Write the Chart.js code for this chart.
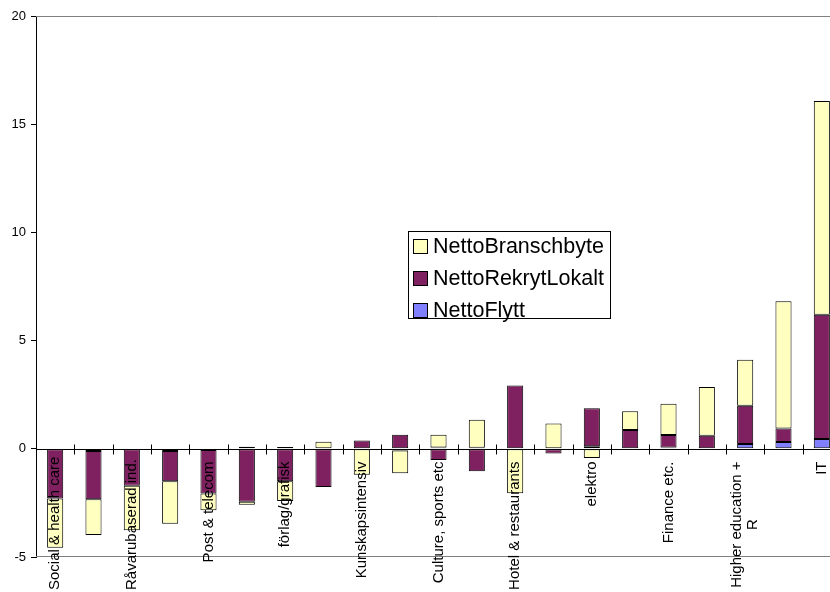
<!DOCTYPE html>
<html>
<head>
<meta charset="utf-8">
<script src="https://cdn.jsdelivr.net/npm/chart.js@4"></script>
<style>
  body { margin: 0; background: #fff; overflow: hidden; }
  #ruta { position: relative; width: 830px; height: 592px; overflow: hidden; }
  #legend {
    position: absolute; left: 408px; top: 231px; width: 203px; height: 88px;
    border: 1px solid #000; background: #fff; box-sizing: border-box;
    font: 21.5px "Liberation Sans", Arial, sans-serif; color: #000;
  }
  #legend div { position: absolute; left: 4px; height: 24px; line-height: 24px; white-space: nowrap; }
  #legend span { display: inline-block; width: 13px; height: 13px; border: 1px solid #000; margin-right: 5px; vertical-align: -1px; }
</style>
</head>
<body>
<div id="ruta">
  <!-- plotytan fortsätter lite utanför bildens högerkant, som i originalet -->
  <canvas id="diagram" width="841" height="592"></canvas>
  <div id="legend"></div>
</div>
<script>
// kategorier (bara varannan har etikett i bilden)
const kategorier = [
  'Social & health care', '', 'Råvarubaserad ind.', '', 'Post & telecom', '',
  'förlag/grafisk', '', 'Kunskapsintensiv', '', 'Culture, sports etc', '',
  'Hotel & restaurants', '', 'elektro', '', 'Finance etc.', '',
  ['Higher education +', 'R'], '', 'IT'
];

const nettoFlytt = [0, -0.1, 0, -0.1, -0.05, 0.1, 0.08, 0, 0, -0.08, 0.06,
  0.05, 0, 0.03, 0.12, 0, 0.06, -0.05, 0.22, 0.31, 0.45];
const nettoRekrytLokalt = [-2.3, -2.23, -1.71, -1.4, -2.02, -2.45, -1.5, -1.77, 0.38, 0.65, -0.52,
  -1.04, 2.92, -0.22, 1.75, 0.87, 0.58, 0.6, 1.77, 0.63, 5.74];
const nettoBranschbyte = [-2.27, -1.65, -2.05, -1.96, -0.77, -0.13, -0.91, 0.33, -1.2, -1.05, 0.59,
  1.29, -2.05, 1.14, -0.43, 0.86, 1.44, 2.26, 2.13, 5.88, 9.88];

const yTicks = [-5, 0, 5, 10, 15, 20];

const serier = [
  { label: 'NettoFlytt', data: nettoFlytt, farg: '#8080FF' },
  { label: 'NettoRekrytLokalt', data: nettoRekrytLokalt, farg: '#7F2060' },
  { label: 'NettoBranschbyte', data: nettoBranschbyte, farg: '#FFFFC0' }
];

// nollaxel med streck, ram och kategorietiketter
const axelPlugin = {
  id: 'nollaxel',
  beforeDatasetsDraw(chart) {
    const { ctx, chartArea } = chart;
    ctx.save();
    ctx.strokeStyle = '#808080';
    ctx.lineWidth = 1;
    ctx.beginPath();
    ctx.moveTo(chartArea.left, chartArea.top + 0.5);
    ctx.lineTo(chartArea.right, chartArea.top + 0.5);
    ctx.moveTo(chartArea.left, chartArea.bottom - 0.5);
    ctx.lineTo(chartArea.right, chartArea.bottom - 0.5);
    ctx.stroke();
    ctx.restore();
  },
  afterDatasetsDraw(chart) {
    const { ctx, chartArea, scales: { x, y } } = chart;
    const y0 = Math.round(y.getPixelForValue(0)) + 0.5;
    ctx.save();
    ctx.strokeStyle = '#000';
    ctx.lineWidth = 1;
    ctx.beginPath();
    ctx.moveTo(chartArea.left, y0);
    ctx.lineTo(chartArea.right, y0);
    for (let i = 1; i < kategorier.length; i++) {
      const xp = Math.round((x.getPixelForValue(i - 1) + x.getPixelForValue(i)) / 2) + 0.5;
      ctx.moveTo(xp, y0 - 5);
      ctx.lineTo(xp, y0 + 5);
    }
    ctx.stroke();

    ctx.font = '15px "Liberation Sans", Arial, sans-serif';
    ctx.fillStyle = '#000';
    ctx.textBaseline = 'middle';
    ctx.textAlign = 'center';
    kategorier.forEach((lab, i) => {
      if (!lab) return;
      const rader = Array.isArray(lab) ? lab : [lab];
      const w = Math.max(...rader.map(r => ctx.measureText(r).width));
      let topp = y0 + 12;
      if (topp + w > chart.height - 2) topp = chart.height - 2 - w;
      const xp = x.getPixelForValue(i);
      ctx.save();
      ctx.translate(xp, topp);
      ctx.rotate(-Math.PI / 2);
      rader.forEach((r, j) => {
        ctx.fillText(r, -w / 2, (j - (rader.length - 1) / 2) * 16);
      });
      ctx.restore();
    });
    ctx.restore();
  }
};

new Chart(document.getElementById('diagram'), {
  type: 'bar',
  data: {
    labels: kategorier,
    datasets: serier.map(s => ({
      label: s.label,
      data: s.data,
      backgroundColor: s.farg,
      borderColor: '#000',
      borderWidth: 1,
      borderSkipped: false,
      barPercentage: 0.42,
      categoryPercentage: 1
    }))
  },
  options: {
    responsive: false,
    animation: false,
    layout: { padding: { top: 16, right: 0, bottom: 35, left: 0 } },
    plugins: { legend: { display: false }, tooltip: { enabled: false } },
    scales: {
      x: { stacked: true, display: false },
      y: {
        stacked: true,
        min: -5,
        max: 20,
        afterBuildTicks: s => { s.ticks = yTicks.map(v => ({ value: v })); },
        afterFit: s => { s.width = 36; },
        grid: { drawOnChartArea: false, drawTicks: true, tickLength: 5, color: '#000' },
        border: { color: '#000' },
        ticks: {
          color: '#000',
          padding: 5,
          font: { family: '"Liberation Sans", Arial, sans-serif', size: 13 }
        }
      }
    }
  },
  plugins: [axelPlugin]
});

// legend i samma ordning som i bilden
const legend = document.getElementById('legend');
serier.slice().reverse().forEach((s, i) => {
  const rad = document.createElement('div');
  rad.style.top = (2 + i * 32) + 'px';
  rad.innerHTML = '<span style="background:' + s.farg + '"></span>' + s.label;
  legend.appendChild(rad);
});
</script>
</body>
</html>
